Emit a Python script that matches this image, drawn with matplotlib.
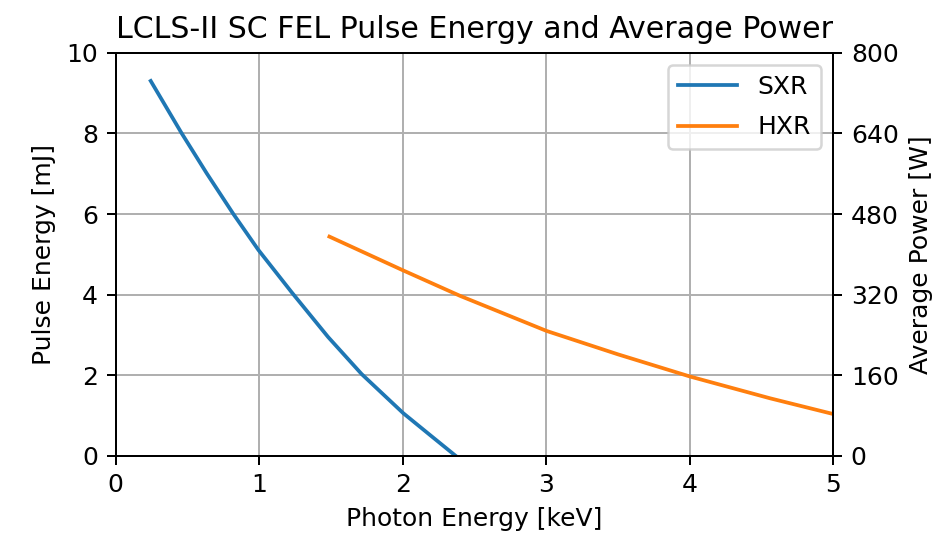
import numpy as np
import matplotlib.pyplot as plt

# photon energy [keV] and pulse energy [mJ]
sxr_energy = [0.244, 0.46, 0.634, 0.82, 0.994, 1.226, 1.48, 1.714, 2.004, 2.19, 2.37]
sxr_pulse = [9.3, 8.0, 7.01, 6.0, 5.11, 4.06, 2.95, 2.03, 1.06, 0.52, 0.0]

hxr_energy = [1.489, 2.004, 2.40, 3.003, 3.5, 4.002, 4.56, 5.0]
hxr_pulse = [5.44, 4.60, 3.97, 3.10, 2.52, 1.97, 1.43, 1.04]

rep_rate = 80  # W per mJ

fig, ax = plt.subplots(figsize=(946 / 180, 539 / 180), dpi=180)
fig.subplots_adjust(left=0.1223, right=0.8809, top=0.9022, bottom=0.154)

l1, = ax.plot(sxr_energy, sxr_pulse, label='SXR')
l2, = ax.plot(hxr_energy, hxr_pulse, label='HXR')
ax.set_xlim(0, 5)
ax.set_ylim(0, 10)
ax.set_xlabel('Photon Energy [keV]')
ax.set_ylabel('Pulse Energy [mJ]')
ax.set_title('LCLS-II SC FEL Pulse Energy and Average Power')
ax.grid(True)

ax2 = ax.twinx()
ax2.set_ylim(0, 10 * rep_rate)
ax2.set_yticks(np.arange(0, 801, 160))
ax2.set_ylabel('Average Power [W]')

ax.legend(handles=[l1, l2], loc='upper right', handlelength=2.36,
          labelspacing=0.65)

fig.savefig('out.png')
